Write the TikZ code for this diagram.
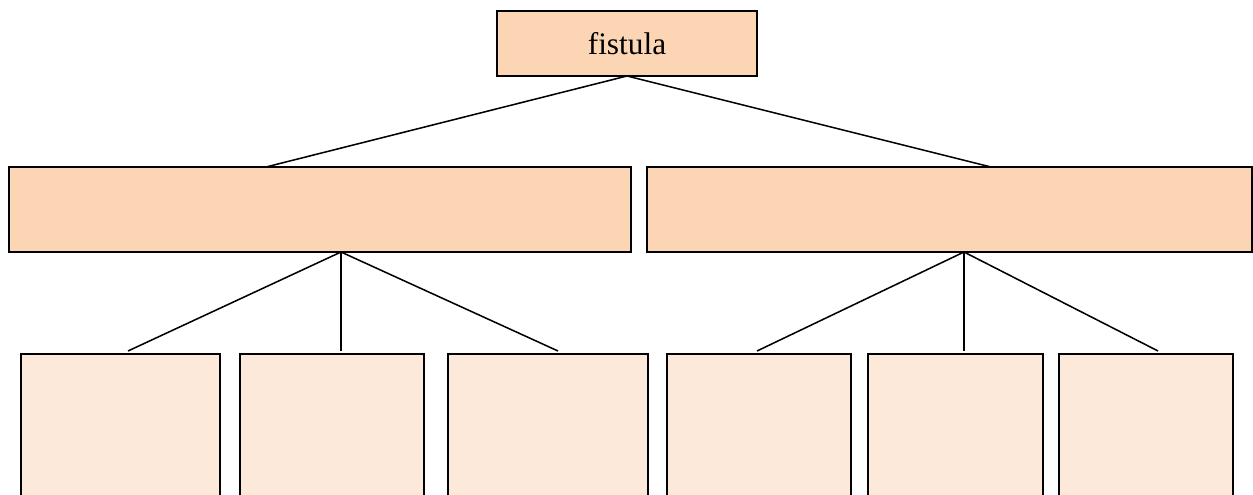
\documentclass[tikz,border=0pt]{standalone}
\usepackage{fontspec}
\setmainfont{Liberation Serif}
\usetikzlibrary{calc}
\definecolor{midfill}{HTML}{FCD5B4}
\definecolor{leaffill}{HTML}{FDE9D9}
\tikzset{
  box/.style={draw=black, line width=1.2pt, inner sep=0pt, outer sep=0pt, rectangle},
  topbox/.style={box, fill=midfill, minimum width=195pt, minimum height=48.75pt, font=\fontsize{23.5}{28}\selectfont},
  midbox/.style={box, fill=midfill, minimum height=63.75pt},
  leafbox/.style={box, fill=leaffill, minimum height=124.5pt},
  link/.style={draw=black, line width=1.15pt}
}
\begin{document}
\begin{tikzpicture}[x=0.75pt,y=-0.75pt]
\useasboundingbox (0,0) rectangle (1253,495);
\clip (0,0) rectangle (1253,495);
\fill[white] (0,0) rectangle (1253,495);
\node[topbox] (top) at (627,43.5) {fistula};
\node[midbox, minimum width=466.5pt] (l) at (320,209.5) {};
\node[midbox, minimum width=453.75pt] (r) at (949.5,209.5) {};
\node[leafbox, minimum width=149.25pt] (c1) at (120.5,437) {};
\node[leafbox, minimum width=138pt] (c2) at (332,437) {};
\node[leafbox, minimum width=150pt] (c3) at (548,437) {};
\node[leafbox, minimum width=138pt] (c4) at (759,437) {};
\node[leafbox, minimum width=131.25pt] (c5) at (955.5,437) {};
\node[leafbox, minimum width=130.5pt] (c6) at (1146,437) {};
\coordinate (lb) at ($(l.south west)+(332,0)$);
\coordinate (rb) at ($(r.south west)+(317,0)$);
\draw[link] (top.south) -- ($(l.north west)+(257,0)$);
\draw[link] (top.south) -- ($(r.north west)+(344,0)$);
\draw[link] (lb) -- ($(c1.north west)+(107,-3)$);
\draw[link] (lb) -- ($(c2.north west)+(101,-3)$);
\draw[link] (lb) -- ($(c3.north west)+(110,-3)$);
\draw[link] (rb) -- ($(c4.north west)+(90,-3)$);
\draw[link] (rb) -- ($(c5.north west)+(96,-3)$);
\draw[link] (rb) -- ($(c6.north west)+(99,-3)$);
\end{tikzpicture}
\end{document}
